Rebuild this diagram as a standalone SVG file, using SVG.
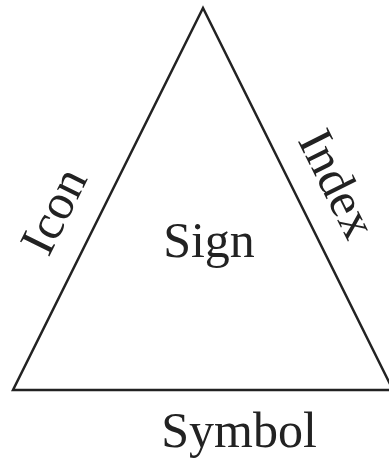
<svg xmlns="http://www.w3.org/2000/svg" width="389" height="459" viewBox="0 0 389 459">
<style>
.lbl{font-family:"Liberation Serif","Times New Roman",serif;font-size:50px;fill:#222;text-anchor:middle}
.edge{fill:none;stroke:#222;stroke-width:2.5;stroke-linejoin:miter}
</style>
<rect width="389" height="459" fill="#fff"/>
<g id="connectors">
<polygon class="edge" points="203,8 13,390 393,390"/>
</g>
<g id="sign"><text class="lbl" x="209" y="257">Sign</text></g>
<g id="icon"><text class="lbl" transform="translate(54,211) rotate(-63.5)" y="16">Icon</text></g>
<g id="index"><text class="lbl" transform="translate(337,184) rotate(63.5)" y="16">Index</text></g>
<g id="symbol"><text class="lbl" x="239" y="447">Symbol</text></g>
</svg>
